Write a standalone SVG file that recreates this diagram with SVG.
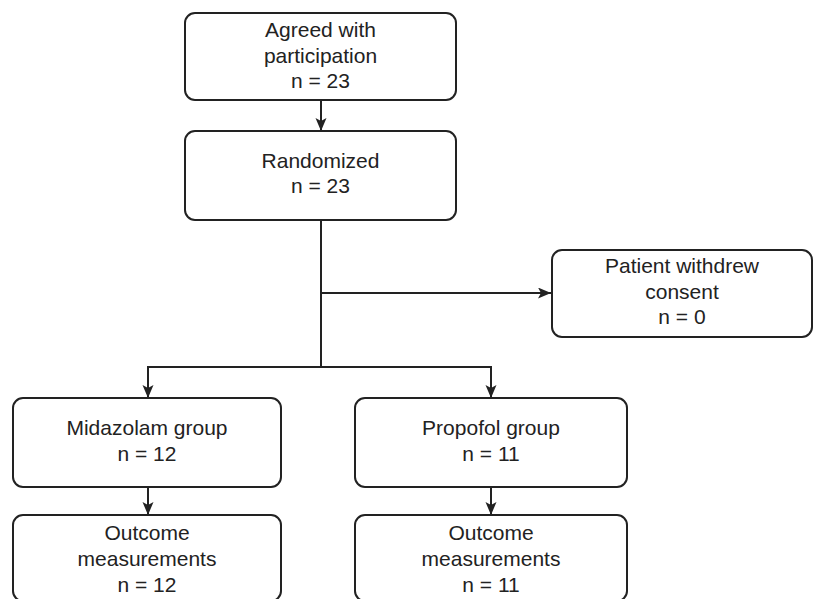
<svg xmlns="http://www.w3.org/2000/svg" width="814" height="599" viewBox="0 0 814 599">
<defs>
<marker id="ah" markerWidth="14" markerHeight="12" refX="13" refY="5.5" orient="auto" markerUnits="userSpaceOnUse">
<path d="M0,0 L13,5.5 L0,11 L3,5.5 z" fill="#222"/>
</marker>
<style>
.box{fill:#fff;stroke:#222;stroke-width:2}
.t{font-family:"Liberation Sans",Arial,sans-serif;font-size:21px;fill:#222;text-anchor:middle}
.c{fill:none;stroke:#222;stroke-width:2}
</style>
</defs>
<rect width="814" height="599" fill="#fff"/>
<g id="connectors">
<line class="c" x1="321" y1="100" x2="321" y2="131" marker-end="url(#ah)"/>
<line class="c" x1="321" y1="220" x2="321" y2="368"/>
<line class="c" x1="321" y1="293" x2="551" y2="293" marker-end="url(#ah)"/>
<polyline class="c" points="148,398 148,367 491,367 491,398" marker-end="url(#ah)"/>
<line class="c" x1="148" y1="367" x2="148" y2="398" marker-end="url(#ah)"/>
<line class="c" x1="148" y1="487" x2="148" y2="515" marker-end="url(#ah)"/>
<line class="c" x1="491" y1="487" x2="491" y2="515" marker-end="url(#ah)"/>
</g>
<g id="agreed">
<rect class="box" x="185" y="13" width="271" height="87" rx="10"/>
<text class="t" x="320.5" y="37">Agreed with</text>
<text class="t" x="320.5" y="63">participation</text>
<text class="t" x="320.5" y="88">n = 23</text>
</g>
<g id="randomized">
<rect class="box" x="185" y="131" width="271" height="89" rx="10"/>
<text class="t" x="320.5" y="168">Randomized</text>
<text class="t" x="320.5" y="193">n = 23</text>
</g>
<g id="withdrew">
<rect class="box" x="552" y="250" width="260" height="87" rx="10"/>
<text class="t" x="682" y="273">Patient withdrew</text>
<text class="t" x="682" y="298.5">consent</text>
<text class="t" x="682" y="324">n = 0</text>
</g>
<g id="midazolam">
<rect class="box" x="13" y="398" width="268" height="89" rx="10"/>
<text class="t" x="147" y="435">Midazolam group</text>
<text class="t" x="147" y="461">n = 12</text>
</g>
<g id="propofol">
<rect class="box" x="355" y="398" width="272" height="89" rx="10"/>
<text class="t" x="491" y="435">Propofol group</text>
<text class="t" x="491" y="461">n = 11</text>
</g>
<g id="outcome-midazolam">
<rect class="box" x="13" y="515" width="268" height="86" rx="10"/>
<text class="t" x="147" y="540">Outcome</text>
<text class="t" x="147" y="566">measurements</text>
<text class="t" x="147" y="592">n = 12</text>
</g>
<g id="outcome-propofol">
<rect class="box" x="355" y="515" width="272" height="86" rx="10"/>
<text class="t" x="491" y="540">Outcome</text>
<text class="t" x="491" y="566">measurements</text>
<text class="t" x="491" y="592">n = 11</text>
</g>
</svg>
